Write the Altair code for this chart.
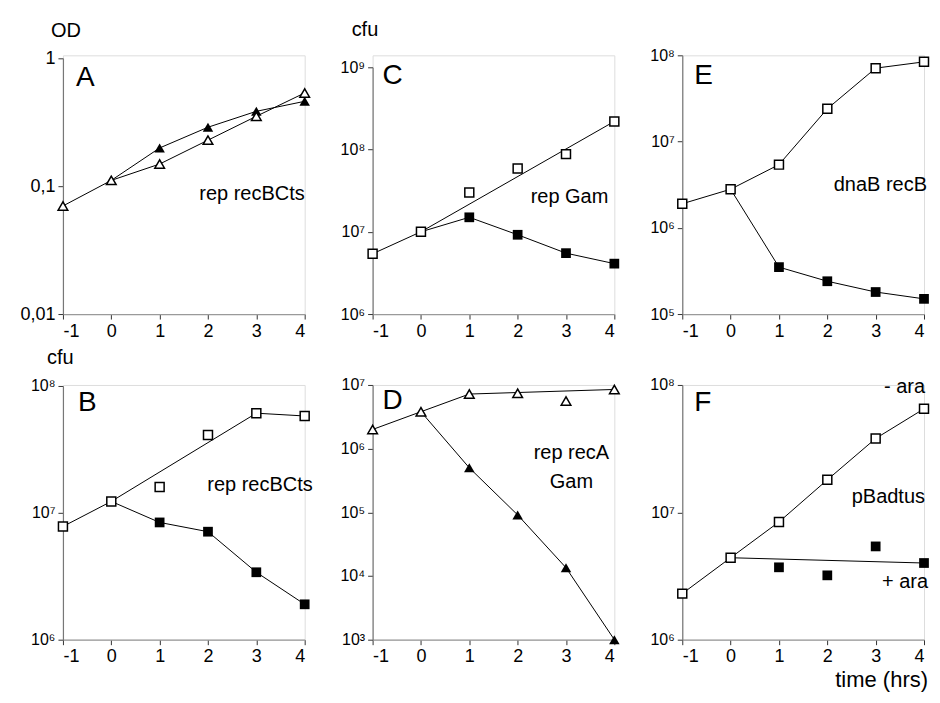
import altair as alt
import pandas as pd

FONT = "Liberation Sans"

# ---------------- data ----------------
hours = [-1, 0, 1, 2, 3, 4]

# A: OD, rep recBCts (open / filled triangles)
A_open_t = hours
A_open_v = [0.070, 0.111, 0.149, 0.229, 0.352, 0.536]
A_fill_t = [1, 2, 3, 4]
A_fill_v = [0.199, 0.289, 0.385, 0.461]
A_oline_t = hours
A_oline_v = [0.070, 0.111, 0.149, 0.229, 0.352, 0.536]
A_fline_t = [0, 1, 2, 3, 4]
A_fline_v = [0.111, 0.199, 0.289, 0.385, 0.461]

# B: cfu, rep recBCts (open / filled squares)
B_open_t = hours
B_open_v = [7.8e6, 1.23e7, 1.6e7, 4.1e7, 6.1e7, 5.8e7]
B_fill_t = [1, 2, 3, 4]
B_fill_v = [8.4e6, 7.1e6, 3.4e6, 1.9e6]
B_oline_t = [-1, 0, 3, 4]
B_oline_v = [7.8e6, 1.23e7, 6.1e7, 5.8e7]
B_fline_t = [0, 1, 2, 3, 4]
B_fline_v = [1.23e7, 8.4e6, 7.1e6, 3.4e6, 1.9e6]

# C: cfu, rep Gam (open / filled squares)
C_open_t = hours
C_open_v = [5.4e6, 1.0e7, 3.0e7, 5.9e7, 8.8e7, 2.2e8]
C_fill_t = [1, 2, 3, 4]
C_fill_v = [1.5e7, 9.2e6, 5.5e6, 4.1e6]
C_oline_t = [-1, 0, 4]
C_oline_v = [5.4e6, 1.0e7, 2.2e8]
C_fline_t = [0, 1, 2, 3, 4]
C_fline_v = [1.0e7, 1.5e7, 9.2e6, 5.5e6, 4.1e6]

# D: cfu, rep recA Gam (open / filled triangles)
D_open_t = hours
D_open_v = [2.0e6, 3.8e6, 7.2e6, 7.4e6, 5.6e6, 8.5e6]
D_fill_t = [1, 2, 3, 4]
D_fill_v = [5.0e5, 9.1e4, 1.35e4, 1.0e3]
D_oline_t = [-1, 0, 1, 4]
D_oline_v = [2.0e6, 3.8e6, 7.2e6, 8.5e6]
D_fline_t = [0, 1, 2, 3, 4]
D_fline_v = [3.8e6, 5.0e5, 9.1e4, 1.35e4, 1.0e3]

# E: cfu, dnaB recB (open / filled squares)
E_open_t = hours
E_open_v = [1.9e6, 2.8e6, 5.4e6, 2.4e7, 7.1e7, 8.4e7]
E_fill_t = [1, 2, 3, 4]
E_fill_v = [3.5e5, 2.4e5, 1.8e5, 1.5e5]
E_oline_t = hours
E_oline_v = [1.9e6, 2.8e6, 5.4e6, 2.4e7, 7.1e7, 8.4e7]
E_fline_t = [0, 1, 2, 3, 4]
E_fline_v = [2.8e6, 3.5e5, 2.4e5, 1.8e5, 1.5e5]

# F: cfu, pBadtus (-ara open / +ara filled squares)
F_open_t = hours
F_open_v = [2.3e6, 4.4e6, 8.4e6, 1.8e7, 3.8e7, 6.5e7]
F_fill_t = [1, 2, 3, 4]
F_fill_v = [3.7e6, 3.2e6, 5.4e6, 4.0e6]
F_oline_t = hours
F_oline_v = [2.3e6, 4.4e6, 8.4e6, 1.8e7, 3.8e7, 6.5e7]
F_fline_t = [0, 4]
F_fline_v = [4.4e6, 4.0e6]

x_ticks = [-1, 0, 1, 2, 3, 4]

SUP = {3: "³", 4: "⁴", 5: "⁵", 6: "⁶", 7: "⁷", 8: "⁸", 9: "⁹"}
OD_LABELS = {0: "1", -1: "0,1", -2: "0,01"}

W = 242


def label_expr(mapping):
    e = "round(log(datum.value)/LN10)"
    expr = "''"
    for k, v in mapping.items():
        expr = f"({e} == {k}) ? '{v}' : ({expr})"
    return expr


def text_layer(txt, x, y, size=20, align="left", baseline="alphabetic"):
    return alt.Chart(alt.Data(values=[{"t": txt}])).mark_text(
        font=FONT, fontSize=size, align=align, baseline=baseline, color="black"
    ).encode(text="t:N", x=alt.value(x), y=alt.value(y))


def panel(open_t, open_v, fill_t, fill_v, oline_t, oline_v, fline_t, fline_v,
          shape, exps, od, H, top, texts):
    lines = pd.DataFrame(
        {"t": list(oline_t) + list(fline_t),
         "v": list(oline_v) + list(fline_v),
         "s": ["open"] * len(oline_t) + ["filled"] * len(fline_t)}
    )
    opn = pd.DataFrame({"t": open_t, "v": open_v})
    fil = pd.DataFrame({"t": fill_t, "v": fill_v})
    tick_vals = [10.0 ** e for e in exps]
    if od:
        lab = label_expr(OD_LABELS)
        lfs = 18
    else:
        lab = label_expr({e: "10" + SUP[e] for e in exps})
        lfs = 16
    xenc = alt.X("t:Q", scale=alt.Scale(domain=[-1, 4], nice=False, zero=False),
                 axis=alt.Axis(values=x_ticks, title=None, grid=False,
                               labelExpr="'' + datum.value",
                               labelFontSize=18, labelFont=FONT, labelColor="black",
                               domainColor="#9a9a9a", tickColor="#333333",
                               tickSize=5, labelPadding=3, domainWidth=1.2))
    yenc = alt.Y("v:Q", scale=alt.Scale(type="log", domain=[tick_vals[0], tick_vals[-1]],
                                        nice=False, range=[H, top]),
                 axis=alt.Axis(values=tick_vals, title=None, grid=False, labelExpr=lab,
                               labelFontSize=lfs, labelFont=FONT, labelColor="black",
                               domainColor="#777777", tickColor="#333333",
                               tickSize=5, labelPadding=3, domainWidth=1.2))
    base_size = 95 if shape == "square" else 110
    line = alt.Chart(lines).mark_line(color="black", strokeWidth=1).encode(
        x=xenc, y=yenc, detail="s:N")
    fpts = alt.Chart(fil).mark_point(shape=shape, filled=True, color="black",
                                     opacity=1, size=base_size).encode(x="t:Q", y="v:Q")
    opts = alt.Chart(opn).mark_point(shape=shape, filled=True, fill="white",
                                     stroke="black", strokeWidth=1.5, opacity=1,
                                     size=base_size * 0.85).encode(x="t:Q", y="v:Q")
    layers = [line, fpts, opts] + [text_layer(*t[:3], **t[3]) for t in texts]
    return alt.layer(*layers).properties(width=W, height=H)


TOP_H = 259
BOT_H = 255

pA = panel(A_open_t, A_open_v, A_fill_t, A_fill_v, A_oline_t, A_oline_v,
           A_fline_t, A_fline_v, "triangle-up", [-2, -1, 0], True, TOP_H, 3,
           [("A", 13, 31, {"size": 28}),
            ("rep recBCts", 242, 145, {"align": "right"}),
            ("OD", -12, -18, {})])
pC = panel(C_open_t, C_open_v, C_fill_t, C_fill_v, C_oline_t, C_oline_v,
           C_fline_t, C_fline_v, "square", [6, 7, 8, 9], False, TOP_H, 12,
           [("C", 10, 29, {"size": 28}),
            ("rep Gam", 236, 148, {"align": "right"}),
            ("cfu", -21, -19, {})])
pE = panel(E_open_t, E_open_v, E_fill_t, E_fill_v, E_oline_t, E_oline_v,
           E_fline_t, E_fline_v, "square", [5, 6, 7, 8], False, TOP_H, 0,
           [("E", 12, 29, {"size": 28}),
            ("dnaB recB", 245, 136, {"align": "right"})])
pB = panel(B_open_t, B_open_v, B_fill_t, B_fill_v, B_oline_t, B_oline_v,
           B_fline_t, B_fline_v, "square", [6, 7, 8], False, BOT_H, 1,
           [("B", 15, 26, {"size": 28}),
            ("rep recBCts", 250, 106, {"align": "right"}),
            ("cfu", -16, -21, {})])
pD = panel(D_open_t, D_open_v, D_fill_t, D_fill_v, D_oline_t, D_oline_v,
           D_fline_t, D_fline_v, "triangle-up", [3, 4, 5, 6, 7], False, BOT_H, 0,
           [("D", 10, 24, {"size": 28}),
            ("rep recA", 199, 74, {"align": "center"}),
            ("Gam", 199, 103, {"align": "center"})])
pF = panel(F_open_t, F_open_v, F_fill_t, F_fill_v, F_oline_t, F_oline_v,
           F_fline_t, F_fline_v, "square", [6, 7, 8], False, BOT_H, 0,
           [("F", 12, 26, {"size": 28}),
            ("- ara", 243, 8, {"align": "right"}),
            ("pBadtus", 243, 118, {"align": "right"}),
            ("+ ara", 246, 203, {"align": "right"}),
            ("time (hrs)", 246, 302, {"align": "right", "size": 22})])

chart = alt.concat(pA, pC, pE, pB, pD, pF, columns=3,
                   spacing={"row": 71, "column": 68}, bounds="flush").properties(
    padding={"left": 11, "top": 11, "right": 0, "bottom": 0}
).configure_view(stroke=None).configure(background="white")

chart.save("out.html", embed_options={"renderer": "svg", "actions": False})
